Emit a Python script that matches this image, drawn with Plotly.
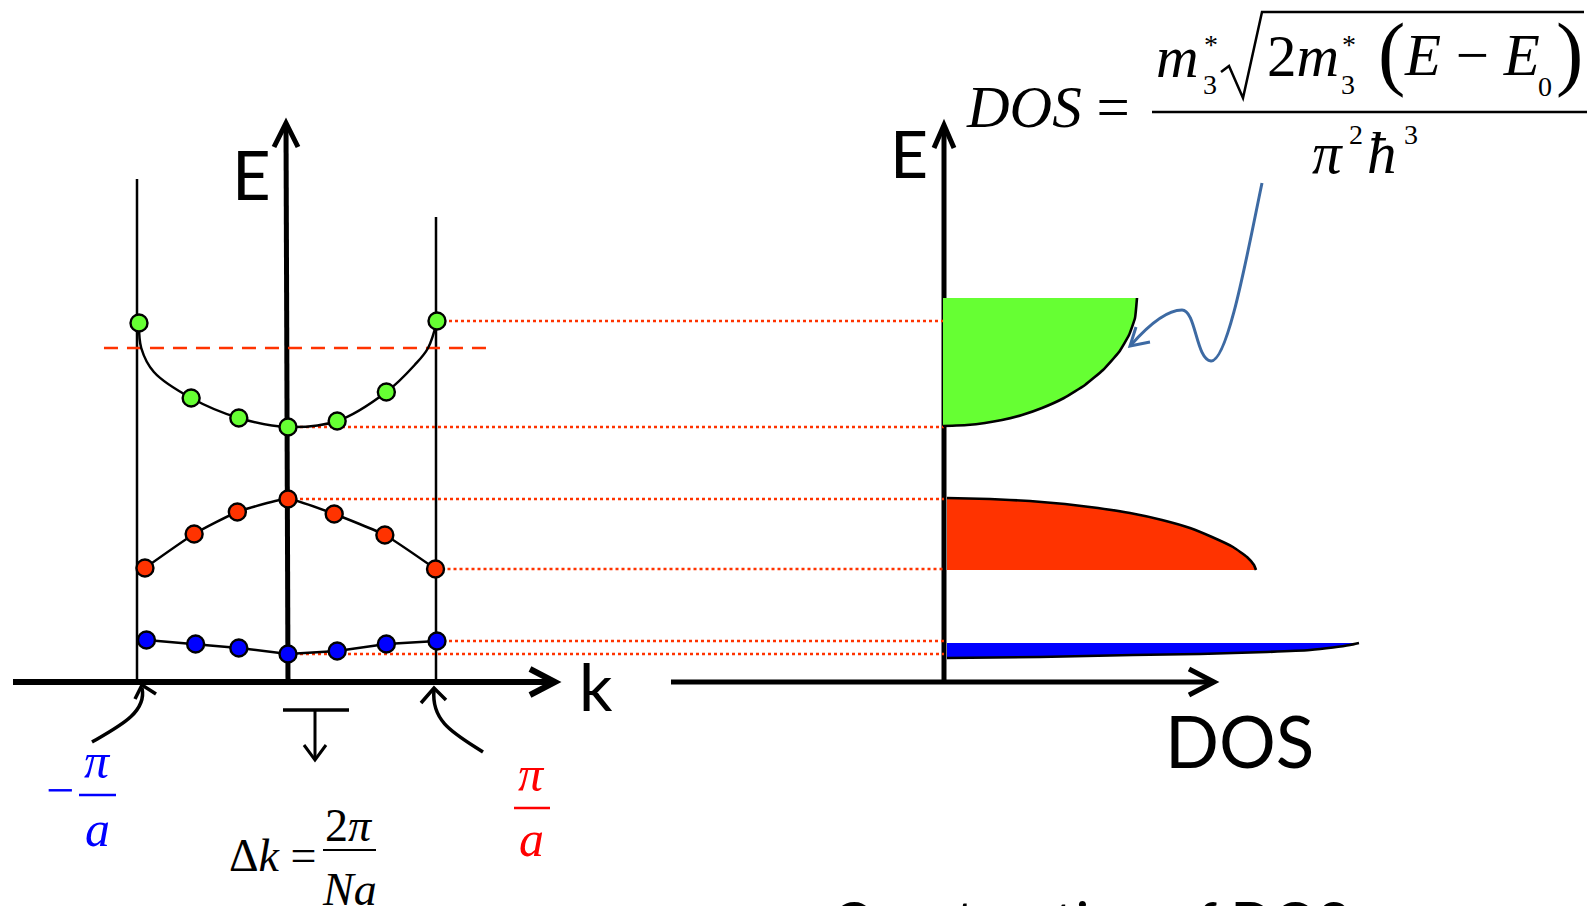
import plotly.graph_objects as go

W, H = 1593, 906

# ---------------- data (k in units of pi/a, E in arbitrary energy units) ----------------
k_green = [-1.00, -0.65, -0.33, 0.00, 0.33, 0.66, 1.00]
E_green = [3.59, 2.84, 2.64, 2.55, 2.61, 2.90, 3.61]
k_red = [-0.96, -0.63, -0.34, 0.00, 0.31, 0.65, 0.99]
E_red = [1.14, 1.48, 1.70, 1.83, 1.68, 1.47, 1.13]
k_blue = [-0.95, -0.62, -0.33, 0.00, 0.33, 0.66, 1.00]
E_blue = [0.42, 0.38, 0.34, 0.28, 0.31, 0.38, 0.41]

# hand-drawn smooth dispersion curve of the upper band
k_green_curve = [-1.00, -0.985, -0.90, -0.65, -0.33, 0.00, 0.33, 0.66, 0.85, 0.94, 1.00]
E_green_curve = [3.59, 3.34, 3.10, 2.84, 2.64, 2.55, 2.61, 2.90, 3.17, 3.34, 3.61]

E_fermi = 3.34
k_fermi = [-1.235, 1.356]

# density of states outlines (DOS arbitrary units)
E_dos_green = [2.56, 2.57, 2.59, 2.62, 2.67, 2.74, 2.84, 2.97, 3.12, 3.30, 3.47, 3.64, 3.84]
D_dos_green = [-0.01, 0.23, 0.41, 0.58, 0.78, 0.98, 1.20, 1.41, 1.59, 1.75, 1.85, 1.91, 1.93]
E_dos_red = [1.84, 1.83, 1.81, 1.78, 1.74, 1.69, 1.62, 1.54, 1.45, 1.35, 1.25, 1.17, 1.12]
D_dos_red = [0.03, 0.46, 0.86, 1.21, 1.54, 1.86, 2.18, 2.46, 2.68, 2.89, 3.03, 3.10, 3.12]
E_dos_blue = [0.24, 0.25, 0.27, 0.28, 0.30, 0.32, 0.345, 0.37, 0.39]
D_dos_blue = [0.03, 0.96, 1.89, 2.56, 3.23, 3.66, 3.89, 4.06, 4.15]

GREEN, RED, BLUE = "#66FF33", "#FF3300", "#0000FF"
DOT_RED = "#FF3300"
ARROW_BLUE = "#3D6AA3"

# axis geometry (pixel frame for decorations; data axes mapped onto it)
K0_PX, K_SCALE = 288, 149      # k = 0 at x = 288 px, 149 px per pi/a
E0_PX, E_SCALE = 682, 100      # E = 0 at y = 682 px, 100 px per unit
D0_PX, D_SCALE = 944, 100      # DOS = 0 at x = 944 px

k_range = [-K0_PX / K_SCALE, (W - K0_PX) / K_SCALE]
E_range = [-(H - E0_PX) / E_SCALE, E0_PX / E_SCALE]
D_range = [-D0_PX / D_SCALE, (W - D0_PX) / D_SCALE]
k_at_dos_axis = (D0_PX - K0_PX) / K_SCALE

fig = go.Figure()

# dummy on the pixel frame
fig.add_trace(go.Scatter(x=[0], y=[0], mode="markers", marker=dict(opacity=0),
                         hoverinfo="skip", xaxis="x", yaxis="y"))

# dotted projection lines from band edges to the DOS axis
edges = [(k_green[6], E_green[6]), (k_green[3], E_green[3]),
         (k_red[3], E_red[3]), (k_red[6], E_red[6]),
         (k_blue[6], E_blue[6]), (k_blue[3], E_blue[3])]
for ke, Ee in edges:
    fig.add_trace(go.Scatter(x=[ke, k_at_dos_axis], y=[Ee, Ee], mode="lines",
                             line=dict(color=DOT_RED, width=2.6, dash="3px,3px"),
                             xaxis="x2", yaxis="y2", hoverinfo="skip"))

# Fermi-like dashed line
fig.add_trace(go.Scatter(x=k_fermi, y=[E_fermi, E_fermi], mode="lines",
                         line=dict(color=DOT_RED, width=2.5, dash="14px,9px"),
                         xaxis="x2", yaxis="y2", hoverinfo="skip"))

# band curves
fig.add_trace(go.Scatter(x=k_green_curve, y=E_green_curve, mode="lines",
                         line=dict(color="black", width=2.5, shape="spline", smoothing=1.0),
                         xaxis="x2", yaxis="y2", hoverinfo="skip"))
fig.add_trace(go.Scatter(x=k_red, y=E_red, mode="lines",
                         line=dict(color="black", width=2.5, shape="spline", smoothing=0.5),
                         xaxis="x2", yaxis="y2", hoverinfo="skip"))
fig.add_trace(go.Scatter(x=k_blue, y=E_blue, mode="lines",
                         line=dict(color="black", width=2.5),
                         xaxis="x2", yaxis="y2", hoverinfo="skip"))

# band dots
for kk, EE, col in [(k_green, E_green, GREEN), (k_red, E_red, RED), (k_blue, E_blue, BLUE)]:
    fig.add_trace(go.Scatter(x=kk, y=EE, mode="markers",
                             marker=dict(size=17, color=col, line=dict(color="black", width=2.4)),
                             xaxis="x2", yaxis="y2", hoverinfo="skip"))

# DOS fills
fig.add_trace(go.Scatter(x=D_dos_green + [D_dos_green[0]], y=E_dos_green + [E_dos_green[-1]],
                         mode="lines", fill="toself", fillcolor=GREEN, line=dict(width=0),
                         xaxis="x3", yaxis="y2", hoverinfo="skip"))
fig.add_trace(go.Scatter(x=D_dos_red + [D_dos_red[0]], y=E_dos_red + [E_dos_red[-1]],
                         mode="lines", fill="toself", fillcolor=RED, line=dict(width=0),
                         xaxis="x3", yaxis="y2", hoverinfo="skip"))
fig.add_trace(go.Scatter(x=D_dos_blue + [D_dos_blue[0]], y=E_dos_blue + [E_dos_blue[-1]],
                         mode="lines", fill="toself", fillcolor=BLUE, line=dict(width=0),
                         xaxis="x3", yaxis="y2", hoverinfo="skip"))
for DD, EE in [(D_dos_green, E_dos_green), (D_dos_red, E_dos_red), (D_dos_blue, E_dos_blue)]:
    fig.add_trace(go.Scatter(x=DD, y=EE, mode="lines",
                             line=dict(color="black", width=2.6, shape="spline", smoothing=0.4),
                             xaxis="x3", yaxis="y2", hoverinfo="skip"))

# ---------------- decorations (pixel frame) ----------------
shapes = []


def line(x0, y0, x1, y1, w=2.5, color="black", layer="below"):
    shapes.append(dict(type="line", xref="x", yref="y", x0=x0, y0=y0, x1=x1, y1=y1,
                       line=dict(color=color, width=w), layer=layer))


def path(d, w=2.5, color="black", layer="below"):
    shapes.append(dict(type="path", xref="x", yref="y", path=d,
                       line=dict(color=color, width=w), layer=layer))


# zone-boundary lines
line(137, 179, 137, 682, 2.5)
line(436, 217, 436, 682, 2.5)
# E axis (left)
line(288, 684, 286, 126, 5)
path("M 274 147 L 286 123 L 298 147", 5)
# k axis
line(13, 682, 552, 682, 6)
path("M 530 669 L 555 682 L 530 695", 6)
# DOS panel axes
line(944, 682, 944, 128, 5)
path("M 934 148 L 944 125 L 954 148", 5)
line(671, 682, 1212, 682, 5)
path("M 1189 669 L 1214 682 L 1189 695", 5)
# delta-k bracket
line(283, 710, 349, 710, 3.5)
line(315, 711, 315, 759, 3)
path("M 304 745 L 315 760 L 326 745", 3)
# curved arrows to zone boundaries
path("M 92 742 C 120 726, 147 712, 142 688", 3.5)
path("M 135 699 L 142 685 L 156 694", 3.5)
path("M 483 752 C 455 734, 431 722, 434 690", 3.5)
path("M 421 703 L 434 688 L 446 700", 3.5)
# blue wiggly pointer from the formula to the DOS curve
path("M 1262 183 C 1248 250, 1228 362, 1211 361 C 1196 360, 1196 310, 1182 310 "
     "C 1166 310, 1146 328, 1131 345", 3, ARROW_BLUE, "above")
path("M 1136 327 L 1130 346 L 1150 342", 3, ARROW_BLUE, "above")
# formula: radical, fraction bar
path("M 1221 72 L 1229 66 L 1243 98 L 1262 12 L 1584 12", 2.5, "black", "above")
line(1152, 112, 1587, 112, 2.5, layer="above")
# fraction bars of k labels
line(79, 795, 116, 795, 2.5, BLUE, "above")
line(514, 808, 550, 808, 2.5, "#FF0000", "above")
line(323, 850, 376, 850, 2, "black", "above")

annotations = []
SERIF = "Liberation Serif"
SANS = "Lato"


def T(x, y, text, size, color="black", family=SERIF, xa="left", ya="middle"):
    annotations.append(dict(x=x, y=y, xref="x", yref="y", text=text, showarrow=False,
                            font=dict(size=size, color=color, family=family),
                            xanchor=xa, yanchor=ya, borderpad=0))


# axis labels
T(231, 174, "E", 67, family=SANS)
T(578, 685, "k", 66, family=SANS)
T(889, 152, "E", 66, family=SANS)
T(1164, 740, "DOS", 71, family=SANS)
T(831, 886, "Construction of DOS", 56, family=SANS, ya="top")

# k-space labels
T(60, 790, "\u2212", 50, BLUE, xa="center")
T(97, 761, "<i>\u03c0</i>", 50, BLUE, xa="center")
T(97, 829, "<i>a</i>", 50, BLUE, xa="center")
T(531, 774, "<i>\u03c0</i>", 50, "#FF0000", xa="center")
T(531, 839, "<i>a</i>", 50, "#FF0000", xa="center")
T(228, 855, "\u0394<i>k</i> =", 46)
T(349, 825, "2<i>\u03c0</i>", 46, xa="center")
T(349, 889, "<i>Na</i>", 46, xa="center")

# DOS formula
T(965, 107, "<i>DOS</i> =", 59)
T(1155, 57, "<i>m</i>", 59)
T(1202, 84, "3", 28)
T(1203, 44, "*", 28)
T(1266, 56, "2<i>m</i>", 59)
T(1340, 84, "3", 28)
T(1341, 44, "*", 28)
T(1391, 52, "(", 82, xa="center")
T(1403, 55, "<i>E</i> \u2212 <i>E</i>", 59)
T(1537, 86, "0", 28)
T(1569, 52, ")", 82, xa="center")
T(1311, 153, "<i>\u03c0</i>", 59)
T(1348, 134, "2", 28)
T(1366, 153, "<i>\u0127</i>", 59)
T(1403, 134, "3", 28)

hidden = dict(visible=False, showgrid=False, zeroline=False, fixedrange=True)
fig.update_layout(
    width=W, height=H, autosize=False,
    margin=dict(l=0, r=0, t=0, b=0, pad=0),
    paper_bgcolor="white", plot_bgcolor="white",
    showlegend=False,
    xaxis=dict(range=[0, W], domain=[0, 1], **hidden),
    yaxis=dict(range=[H, 0], domain=[0, 1], **hidden),
    xaxis2=dict(range=k_range, overlaying="x", anchor="y2", **hidden),
    yaxis2=dict(range=E_range, overlaying="y", anchor="x2", **hidden),
    xaxis3=dict(range=D_range, overlaying="x", anchor="y2", **hidden),
    shapes=shapes,
    annotations=annotations,
)

fig.write_html("out.html")
